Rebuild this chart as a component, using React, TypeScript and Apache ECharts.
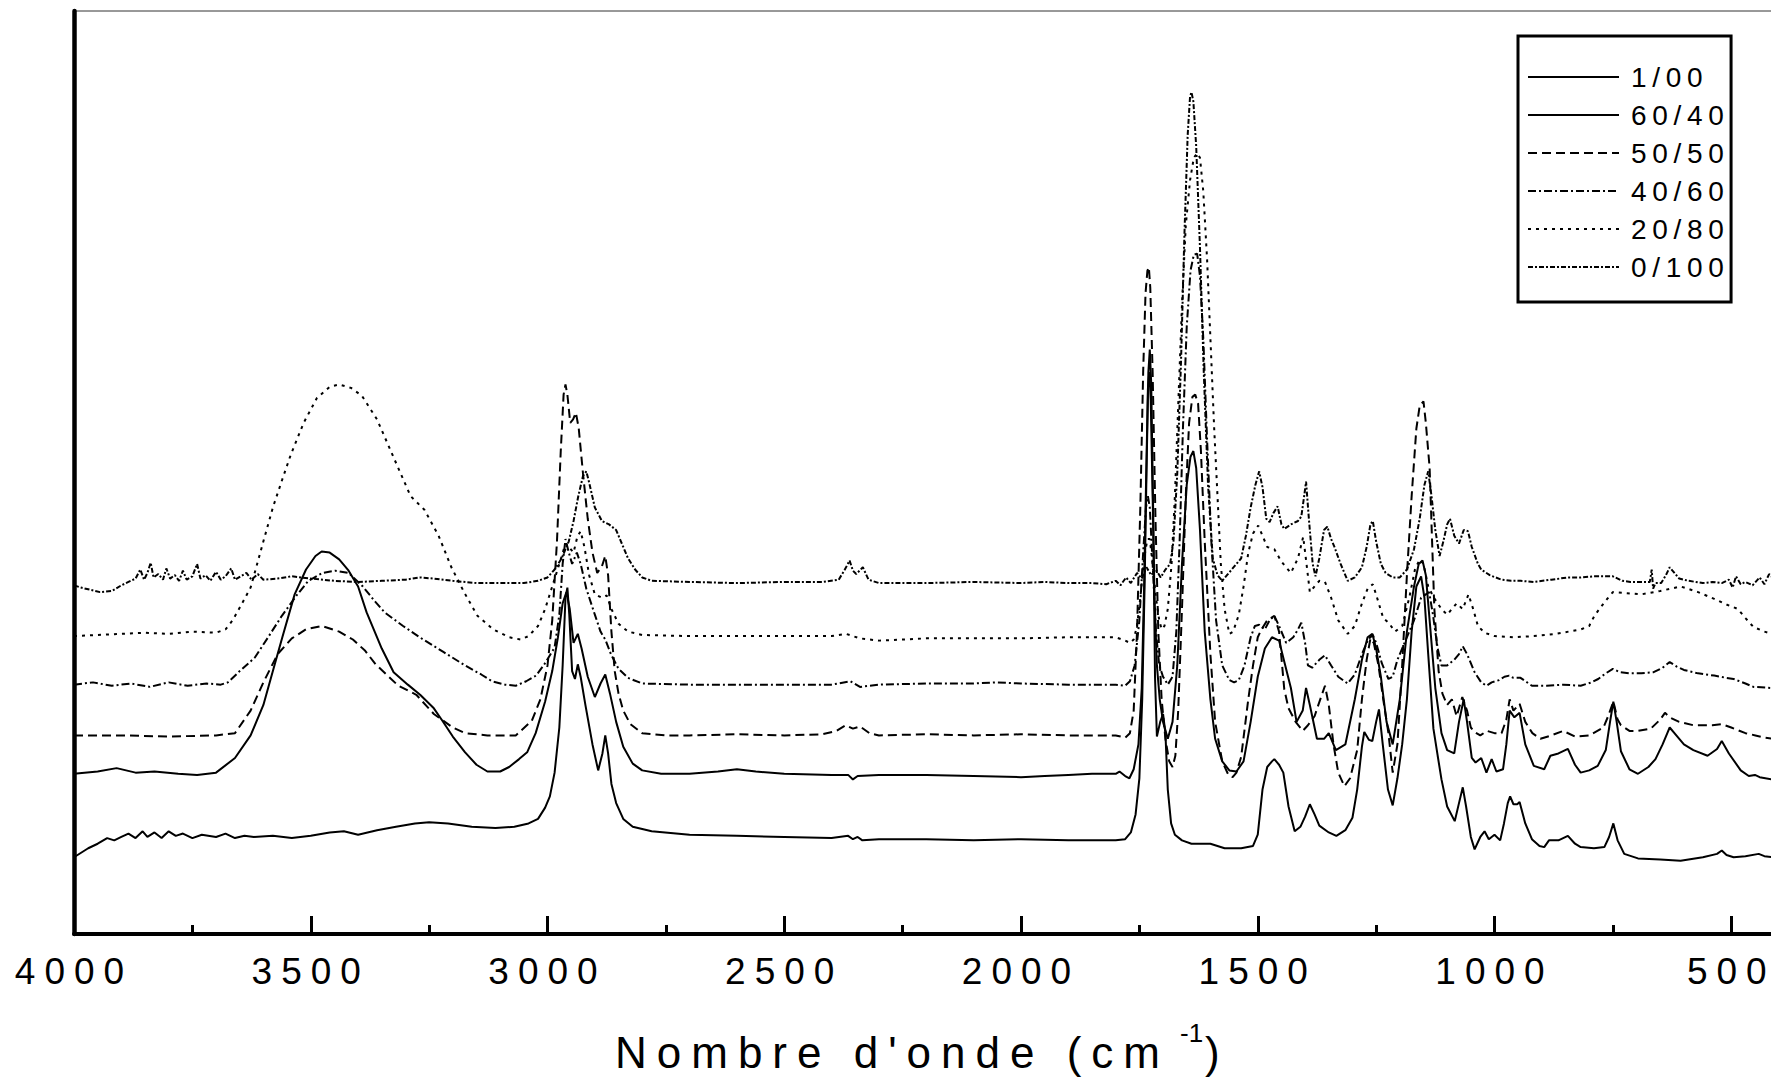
import React, { useEffect, useRef } from 'react';
import * as echarts from 'echarts';

const FONT = '"Liberation Sans", Arial, Helvetica, sans-serif';

// Blend ratios shown in the legend, one spectrum each
const seriesNames = ['1/00', '60/40', '50/50', '40/60', '20/80', '0/100'];

// Wavenumber axis (cm-1), drawn high to low
const xMin = 0;
const xMax = 4000;
const xStep = 500;

// Stacked absorbance spectra: [wavenumber cm-1, absorbance a.u. incl. offset]
const spec_1_00: [number, number][] = [
  [4000, 0.68], [3985, 0.72], [3970, 0.76], [3950, 0.8], [3930, 0.85], [3915, 0.83], [3900, 0.86], [3885, 0.89],
  [3870, 0.85], [3855, 0.91], [3845, 0.86], [3830, 0.9], [3815, 0.85], [3800, 0.91], [3785, 0.87], [3770, 0.89],
  [3750, 0.85], [3730, 0.88], [3700, 0.86], [3680, 0.89], [3660, 0.85], [3640, 0.87], [3620, 0.86], [3580, 0.87],
  [3540, 0.85], [3500, 0.87], [3460, 0.9], [3430, 0.91], [3400, 0.88], [3360, 0.92], [3320, 0.95], [3280, 0.98],
  [3250, 0.99], [3210, 0.98], [3160, 0.95], [3110, 0.94], [3070, 0.95], [3040, 0.98], [3020, 1.02], [3005, 1.12],
  [2995, 1.22], [2985, 1.43], [2975, 1.83], [2968, 2.38], [2962, 2.98], [2958, 3.07], [2954, 2.83], [2948, 2.33],
  [2942, 2.26], [2936, 2.39], [2930, 2.28], [2920, 2.03], [2905, 1.68], [2893, 1.45], [2884, 1.6], [2878, 1.76],
  [2872, 1.6], [2865, 1.33], [2855, 1.16], [2840, 1.02], [2820, 0.95], [2780, 0.91], [2700, 0.88], [2600, 0.87],
  [2500, 0.86], [2400, 0.85], [2365, 0.87], [2355, 0.84], [2345, 0.86], [2335, 0.83], [2300, 0.84], [2200, 0.84],
  [2100, 0.83], [2000, 0.84], [1900, 0.83], [1800, 0.83], [1780, 0.84], [1768, 0.9], [1758, 1.06], [1750, 1.38],
  [1744, 2.08], [1739, 3.08], [1735, 4.08], [1731, 4.98], [1728, 5.18], [1725, 4.88], [1721, 3.78], [1717, 2.28],
  [1713, 1.75], [1706, 1.88], [1700, 1.95], [1695, 1.78], [1690, 1.28], [1683, 0.98], [1675, 0.88], [1660, 0.83],
  [1640, 0.8], [1600, 0.8], [1570, 0.76], [1535, 0.76], [1510, 0.78], [1500, 0.88], [1490, 1.28], [1480, 1.48],
  [1470, 1.53], [1465, 1.55], [1455, 1.5], [1446, 1.43], [1435, 1.13], [1422, 0.91], [1410, 0.95], [1400, 1.04],
  [1390, 1.15], [1380, 1.06], [1370, 0.96], [1350, 0.9], [1334, 0.87], [1315, 0.92], [1300, 1.03], [1290, 1.28],
  [1280, 1.66], [1275, 1.79], [1265, 1.72], [1258, 1.71], [1250, 1.88], [1244, 1.99], [1236, 1.68], [1225, 1.28],
  [1215, 1.14], [1205, 1.38], [1195, 1.68], [1185, 2.08], [1175, 2.68], [1165, 3.08], [1155, 3.17], [1148, 2.98],
  [1140, 2.48], [1129, 1.82], [1120, 1.58], [1112, 1.37], [1100, 1.13], [1084, 1.0], [1075, 1.16], [1067, 1.3],
  [1060, 1.13], [1050, 0.86], [1042, 0.75], [1030, 0.86], [1021, 0.91], [1012, 0.84], [1000, 0.88], [988, 0.83],
  [980, 0.98], [972, 1.16], [967, 1.22], [960, 1.15], [952, 1.15], [947, 1.17], [935, 0.98], [921, 0.84],
  [905, 0.78], [895, 0.77], [885, 0.83], [865, 0.83], [845, 0.87], [830, 0.8], [818, 0.77], [790, 0.76],
  [768, 0.77], [758, 0.86], [749, 0.98], [740, 0.83], [726, 0.71], [697, 0.67], [650, 0.66], [607, 0.65],
  [560, 0.68], [530, 0.71], [520, 0.74], [510, 0.7], [495, 0.68], [470, 0.69], [442, 0.71], [430, 0.69],
  [413, 0.68], [400, 0.68],
];

const spec_60_40: [number, number][] = [
  [4000, 1.42], [3950, 1.44], [3910, 1.47], [3870, 1.43], [3830, 1.44], [3780, 1.42], [3740, 1.41], [3700, 1.43],
  [3660, 1.56], [3627, 1.76], [3600, 2.03], [3580, 2.33], [3560, 2.63], [3534, 3.01], [3510, 3.23], [3490, 3.35],
  [3477, 3.39], [3460, 3.38], [3440, 3.32], [3420, 3.22], [3400, 3.08], [3382, 2.85], [3350, 2.53], [3325, 2.32],
  [3295, 2.21], [3269, 2.12], [3240, 2.0], [3222, 1.89], [3200, 1.75], [3174, 1.61], [3150, 1.5], [3127, 1.44],
  [3100, 1.44], [3081, 1.48], [3060, 1.55], [3043, 1.61], [3025, 1.78], [3005, 2.06], [2990, 2.33], [2978, 2.63],
  [2968, 2.93], [2960, 3.03], [2953, 2.88], [2945, 2.58], [2936, 2.66], [2928, 2.53], [2915, 2.28], [2900, 2.1],
  [2888, 2.22], [2878, 2.3], [2868, 2.13], [2855, 1.88], [2840, 1.66], [2820, 1.51], [2800, 1.45], [2760, 1.42],
  [2700, 1.42], [2640, 1.44], [2600, 1.46], [2560, 1.44], [2500, 1.42], [2400, 1.41], [2365, 1.41], [2355, 1.37],
  [2345, 1.4], [2300, 1.41], [2200, 1.41], [2100, 1.4], [2000, 1.39], [1950, 1.4], [1900, 1.41], [1850, 1.42],
  [1800, 1.42], [1792, 1.44], [1780, 1.4], [1771, 1.38], [1762, 1.46], [1752, 1.68], [1745, 2.18], [1740, 3.08],
  [1736, 3.98], [1732, 4.83], [1729, 4.98], [1726, 4.73], [1722, 3.88], [1718, 2.98], [1713, 2.38], [1707, 2.08],
  [1700, 1.88], [1690, 1.73], [1680, 1.88], [1670, 2.38], [1660, 3.28], [1650, 3.98], [1642, 4.23], [1636, 4.28],
  [1630, 4.13], [1622, 3.58], [1612, 2.68], [1600, 2.08], [1590, 1.73], [1575, 1.53], [1560, 1.45], [1545, 1.44],
  [1530, 1.53], [1515, 1.88], [1500, 2.28], [1485, 2.53], [1470, 2.63], [1455, 2.6], [1445, 2.43], [1430, 2.18],
  [1418, 1.88], [1405, 1.98], [1398, 2.18], [1390, 2.03], [1375, 1.73], [1360, 1.73], [1350, 1.78], [1335, 1.63],
  [1315, 1.68], [1295, 2.08], [1280, 2.43], [1268, 2.63], [1258, 2.66], [1250, 2.53], [1240, 2.28], [1228, 1.88],
  [1215, 1.68], [1200, 2.08], [1185, 2.68], [1170, 3.08], [1160, 3.28], [1152, 3.31], [1145, 3.18], [1135, 2.68],
  [1125, 2.18], [1112, 1.78], [1100, 1.63], [1085, 1.6], [1075, 1.88], [1065, 2.08], [1058, 1.88], [1048, 1.56],
  [1040, 1.52], [1028, 1.56], [1017, 1.43], [1006, 1.55], [996, 1.44], [982, 1.46], [975, 1.68], [968, 1.98],
  [958, 1.92], [947, 1.96], [935, 1.68], [917, 1.49], [895, 1.46], [882, 1.58], [865, 1.6], [845, 1.64],
  [830, 1.5], [818, 1.43], [800, 1.45], [782, 1.49], [765, 1.63], [756, 1.88], [749, 2.06], [742, 1.88],
  [733, 1.62], [715, 1.46], [697, 1.42], [675, 1.48], [660, 1.55], [645, 1.68], [635, 1.78], [630, 1.83],
  [620, 1.78], [600, 1.68], [580, 1.63], [550, 1.58], [530, 1.64], [520, 1.71], [505, 1.6], [480, 1.45],
  [463, 1.4], [450, 1.41], [440, 1.39], [413, 1.37], [400, 1.37],
];

const spec_50_50: [number, number][] = [
  [4000, 1.76], [3900, 1.76], [3800, 1.75], [3700, 1.76], [3660, 1.78], [3627, 1.98], [3600, 2.23], [3570, 2.48],
  [3540, 2.62], [3510, 2.7], [3477, 2.73], [3440, 2.68], [3411, 2.61], [3385, 2.51], [3363, 2.39], [3315, 2.2],
  [3277, 2.12], [3240, 1.95], [3200, 1.83], [3174, 1.78], [3127, 1.76], [3067, 1.76], [3033, 1.89], [3015, 2.08],
  [3000, 2.38], [2990, 2.78], [2980, 3.48], [2972, 4.28], [2966, 4.78], [2962, 4.87], [2958, 4.78], [2952, 4.53],
  [2946, 4.56], [2940, 4.62], [2934, 4.48], [2925, 4.08], [2915, 3.68], [2905, 3.38], [2895, 3.2], [2885, 3.26],
  [2878, 3.35], [2872, 3.18], [2865, 2.68], [2858, 2.33], [2850, 2.13], [2840, 1.98], [2825, 1.86], [2800, 1.78],
  [2750, 1.76], [2700, 1.76], [2600, 1.77], [2500, 1.76], [2420, 1.77], [2390, 1.8], [2370, 1.85], [2355, 1.82],
  [2340, 1.84], [2320, 1.78], [2300, 1.76], [2200, 1.77], [2100, 1.76], [2000, 1.77], [1900, 1.76], [1800, 1.76],
  [1780, 1.74], [1770, 1.78], [1762, 1.98], [1755, 2.68], [1748, 3.78], [1742, 4.98], [1737, 5.68], [1733, 5.88],
  [1730, 5.91], [1727, 5.73], [1722, 4.98], [1716, 3.68], [1710, 2.68], [1703, 2.08], [1695, 1.73], [1687, 1.53],
  [1680, 1.48], [1674, 1.58], [1668, 1.98], [1660, 2.88], [1652, 3.88], [1645, 4.53], [1638, 4.76], [1632, 4.78],
  [1626, 4.7], [1620, 4.28], [1612, 3.48], [1600, 2.48], [1590, 1.88], [1575, 1.53], [1562, 1.41], [1553, 1.39],
  [1545, 1.43], [1535, 1.57], [1520, 2.08], [1510, 2.38], [1500, 2.63], [1492, 2.7], [1480, 2.78], [1465, 2.82],
  [1455, 2.68], [1444, 2.17], [1435, 2.0], [1420, 1.88], [1405, 1.8], [1394, 1.85], [1380, 1.93], [1372, 2.03],
  [1358, 2.2], [1350, 2.03], [1340, 1.68], [1330, 1.43], [1317, 1.31], [1305, 1.38], [1290, 1.63], [1280, 2.08],
  [1270, 2.43], [1262, 2.62], [1255, 2.58], [1245, 2.38], [1235, 2.08], [1224, 1.78], [1215, 1.43], [1205, 1.68],
  [1195, 2.38], [1185, 3.18], [1175, 3.88], [1165, 4.48], [1158, 4.68], [1150, 4.72], [1145, 4.53], [1137, 4.13],
  [1127, 2.88], [1118, 2.33], [1110, 2.13], [1100, 2.03], [1090, 2.08], [1080, 1.93], [1068, 2.1], [1058, 1.98],
  [1050, 1.83], [1042, 1.79], [1030, 1.76], [1016, 1.8], [1000, 1.78], [985, 1.78], [975, 1.9], [968, 2.08],
  [960, 1.98], [947, 2.04], [935, 1.88], [920, 1.78], [903, 1.73], [880, 1.76], [855, 1.8], [830, 1.75],
  [800, 1.76], [770, 1.83], [760, 1.93], [749, 2.06], [740, 1.9], [733, 1.85], [715, 1.8], [697, 1.8],
  [670, 1.82], [650, 1.9], [640, 1.96], [630, 1.92], [610, 1.88], [580, 1.85], [540, 1.85], [520, 1.86],
  [500, 1.83], [470, 1.78], [449, 1.76], [430, 1.74], [413, 1.73], [400, 1.73],
];

const spec_40_60: [number, number][] = [
  [4000, 2.21], [3960, 2.23], [3920, 2.2], [3880, 2.22], [3840, 2.19], [3800, 2.23], [3760, 2.2], [3720, 2.22],
  [3690, 2.21], [3675, 2.23], [3650, 2.33], [3618, 2.45], [3590, 2.63], [3561, 2.82], [3530, 3.0], [3505, 3.13],
  [3475, 3.2], [3448, 3.22], [3420, 3.2], [3390, 3.08], [3365, 2.95], [3344, 2.85], [3305, 2.73], [3270, 2.63],
  [3220, 2.5], [3174, 2.38], [3140, 2.3], [3117, 2.24], [3090, 2.21], [3067, 2.2], [3045, 2.24], [3024, 2.29],
  [3005, 2.4], [2985, 2.54], [2975, 2.83], [2968, 3.28], [2962, 3.5], [2955, 3.38], [2948, 3.28], [2938, 3.38],
  [2930, 3.28], [2918, 3.06], [2900, 2.83], [2888, 2.68], [2878, 2.61], [2866, 2.48], [2850, 2.35], [2830, 2.27],
  [2800, 2.22], [2700, 2.21], [2600, 2.21], [2500, 2.21], [2400, 2.21], [2360, 2.24], [2340, 2.19], [2300, 2.21],
  [2200, 2.22], [2100, 2.22], [2050, 2.23], [2000, 2.22], [1900, 2.21], [1800, 2.21], [1780, 2.2], [1770, 2.24],
  [1760, 2.38], [1750, 2.78], [1742, 3.38], [1736, 3.78], [1732, 3.88], [1728, 3.78], [1722, 3.28], [1715, 2.68],
  [1708, 2.38], [1700, 2.28], [1690, 2.21], [1680, 2.28], [1672, 2.68], [1665, 3.48], [1658, 4.48], [1650, 5.38],
  [1642, 5.88], [1635, 6.02], [1628, 6.03], [1622, 5.83], [1615, 5.28], [1607, 4.38], [1598, 3.48], [1588, 2.78],
  [1575, 2.38], [1560, 2.25], [1550, 2.23], [1540, 2.25], [1528, 2.38], [1515, 2.63], [1506, 2.73], [1497, 2.74],
  [1485, 2.7], [1475, 2.78], [1465, 2.82], [1455, 2.73], [1440, 2.58], [1425, 2.63], [1415, 2.7], [1408, 2.76],
  [1400, 2.58], [1394, 2.38], [1385, 2.36], [1370, 2.43], [1358, 2.47], [1345, 2.38], [1330, 2.28], [1310, 2.22],
  [1295, 2.3], [1280, 2.48], [1267, 2.61], [1257, 2.65], [1250, 2.58], [1238, 2.4], [1224, 2.26], [1215, 2.28],
  [1205, 2.43], [1190, 2.58], [1170, 2.78], [1155, 2.98], [1145, 3.01], [1138, 3.03], [1130, 2.83], [1120, 2.53],
  [1112, 2.38], [1100, 2.38], [1085, 2.43], [1075, 2.48], [1067, 2.55], [1058, 2.48], [1042, 2.32], [1028, 2.23],
  [1017, 2.2], [1006, 2.23], [990, 2.25], [979, 2.28], [969, 2.29], [960, 2.27], [945, 2.27], [921, 2.2],
  [890, 2.2], [855, 2.21], [818, 2.2], [795, 2.23], [781, 2.26], [765, 2.31], [750, 2.35], [735, 2.32],
  [713, 2.31], [690, 2.31], [664, 2.32], [645, 2.36], [630, 2.41], [615, 2.37], [600, 2.34], [570, 2.31],
  [536, 2.29], [510, 2.27], [495, 2.26], [470, 2.22], [453, 2.19], [413, 2.18], [400, 2.18],
];

const spec_20_80: [number, number][] = [
  [4000, 2.64], [3950, 2.65], [3900, 2.66], [3850, 2.67], [3800, 2.66], [3750, 2.68], [3700, 2.67], [3680, 2.7],
  [3665, 2.78], [3645, 2.93], [3627, 3.07], [3600, 3.48], [3580, 3.78], [3560, 4.03], [3542, 4.25], [3515, 4.53],
  [3487, 4.75], [3460, 4.85], [3440, 4.87], [3415, 4.84], [3392, 4.77], [3360, 4.56], [3334, 4.31], [3310, 4.08],
  [3289, 3.88], [3260, 3.76], [3230, 3.53], [3203, 3.25], [3175, 3.02], [3148, 2.82], [3115, 2.7], [3081, 2.63],
  [3057, 2.61], [3040, 2.64], [3020, 2.73], [3005, 2.88], [2990, 3.08], [2975, 3.28], [2962, 3.46], [2955, 3.43],
  [2945, 3.38], [2937, 3.52], [2930, 3.57], [2922, 3.43], [2912, 3.18], [2900, 3.01], [2885, 2.98], [2875, 3.0],
  [2865, 2.88], [2850, 2.75], [2830, 2.68], [2800, 2.65], [2700, 2.64], [2600, 2.64], [2500, 2.64], [2400, 2.64],
  [2370, 2.66], [2340, 2.62], [2300, 2.6], [2250, 2.61], [2200, 2.62], [2100, 2.62], [2000, 2.62], [1900, 2.63],
  [1800, 2.63], [1780, 2.6], [1770, 2.58], [1762, 2.61], [1755, 2.73], [1748, 2.98], [1740, 3.33], [1733, 3.5],
  [1728, 3.5], [1722, 3.28], [1715, 2.98], [1708, 2.78], [1703, 2.7], [1697, 2.73], [1690, 2.88], [1682, 3.28],
  [1675, 3.88], [1668, 4.68], [1660, 5.58], [1652, 6.28], [1643, 6.68], [1635, 6.88], [1628, 6.92], [1622, 6.88],
  [1615, 6.58], [1607, 5.98], [1600, 5.28], [1592, 4.48], [1585, 3.88], [1578, 3.28], [1570, 2.88], [1560, 2.66],
  [1552, 2.68], [1540, 2.83], [1530, 3.08], [1520, 3.38], [1510, 3.55], [1499, 3.62], [1490, 3.53], [1480, 3.43],
  [1465, 3.41], [1450, 3.3], [1430, 3.2], [1415, 3.33], [1404, 3.52], [1397, 3.28], [1390, 3.03], [1380, 3.08],
  [1370, 3.13], [1358, 3.12], [1345, 2.98], [1330, 2.78], [1310, 2.66], [1295, 2.73], [1280, 2.93], [1268, 3.06],
  [1257, 3.1], [1248, 2.98], [1235, 2.8], [1224, 2.76], [1210, 2.68], [1195, 2.73], [1180, 2.98], [1168, 3.23],
  [1158, 3.32], [1150, 3.28], [1140, 3.08], [1128, 2.98], [1112, 2.88], [1100, 2.83], [1090, 2.88], [1080, 2.93],
  [1067, 2.88], [1055, 3.01], [1045, 2.88], [1035, 2.73], [1021, 2.67], [1000, 2.64], [960, 2.63], [917, 2.64],
  [870, 2.66], [817, 2.7], [800, 2.73], [789, 2.82], [775, 2.9], [762, 2.97], [750, 3.03], [720, 3.02],
  [690, 3.01], [650, 3.04], [607, 3.08], [570, 3.03], [536, 2.97], [510, 2.92], [486, 2.88], [470, 2.8],
  [453, 2.72], [430, 2.68], [413, 2.66], [400, 2.66],
];

const spec_0_100: [number, number][] = [
  [4000, 3.09], [3985, 3.07], [3965, 3.05], [3945, 3.03], [3920, 3.04], [3900, 3.09], [3885, 3.12], [3870, 3.15],
  [3860, 3.23], [3852, 3.14], [3845, 3.2], [3838, 3.29], [3832, 3.16], [3822, 3.19], [3812, 3.14], [3805, 3.24],
  [3797, 3.15], [3787, 3.18], [3778, 3.13], [3770, 3.22], [3762, 3.14], [3750, 3.17], [3740, 3.28], [3733, 3.15],
  [3722, 3.18], [3712, 3.13], [3700, 3.21], [3690, 3.14], [3680, 3.17], [3668, 3.24], [3660, 3.14], [3648, 3.17],
  [3636, 3.2], [3625, 3.14], [3612, 3.19], [3600, 3.14], [3570, 3.15], [3540, 3.17], [3500, 3.15], [3450, 3.13],
  [3400, 3.12], [3350, 3.13], [3300, 3.14], [3270, 3.16], [3240, 3.15], [3200, 3.13], [3150, 3.11], [3100, 3.11],
  [3050, 3.11], [3020, 3.13], [3000, 3.16], [2985, 3.23], [2970, 3.33], [2955, 3.48], [2945, 3.66], [2935, 3.88],
  [2925, 4.06], [2918, 4.1], [2912, 4.0], [2900, 3.78], [2885, 3.66], [2870, 3.63], [2855, 3.58], [2845, 3.48],
  [2830, 3.33], [2815, 3.23], [2800, 3.16], [2780, 3.13], [2700, 3.12], [2600, 3.11], [2500, 3.12], [2420, 3.12],
  [2385, 3.14], [2372, 3.23], [2362, 3.31], [2355, 3.22], [2348, 3.19], [2334, 3.25], [2322, 3.14], [2300, 3.11],
  [2200, 3.11], [2100, 3.12], [2000, 3.11], [1950, 3.12], [1900, 3.11], [1850, 3.11], [1820, 3.1], [1800, 3.13],
  [1790, 3.09], [1778, 3.16], [1768, 3.11], [1755, 3.2], [1745, 3.15], [1735, 3.25], [1725, 3.18], [1715, 3.23],
  [1705, 3.16], [1695, 3.23], [1685, 3.28], [1678, 3.48], [1670, 4.08], [1662, 5.08], [1655, 6.18], [1648, 7.08],
  [1643, 7.42], [1640, 7.46], [1636, 7.38], [1630, 6.98], [1622, 6.08], [1614, 4.98], [1605, 3.98], [1595, 3.33],
  [1585, 3.18], [1575, 3.13], [1565, 3.18], [1555, 3.23], [1545, 3.28], [1535, 3.33], [1525, 3.53], [1515, 3.78],
  [1505, 3.98], [1497, 4.1], [1490, 3.96], [1482, 3.68], [1475, 3.65], [1467, 3.73], [1458, 3.79], [1450, 3.63],
  [1444, 3.59], [1430, 3.63], [1415, 3.66], [1408, 3.7], [1402, 3.88], [1398, 4.01], [1392, 3.68], [1384, 3.28],
  [1378, 3.17], [1370, 3.33], [1360, 3.58], [1353, 3.61], [1345, 3.5], [1338, 3.43], [1325, 3.28], [1310, 3.13],
  [1295, 3.16], [1280, 3.25], [1270, 3.43], [1262, 3.63], [1257, 3.66], [1250, 3.48], [1240, 3.28], [1230, 3.2],
  [1215, 3.16], [1200, 3.16], [1185, 3.23], [1170, 3.41], [1158, 3.68], [1148, 3.98], [1140, 4.1], [1133, 3.88],
  [1125, 3.58], [1116, 3.35], [1108, 3.48], [1100, 3.63], [1094, 3.68], [1085, 3.53], [1075, 3.46], [1065, 3.58],
  [1056, 3.57], [1048, 3.43], [1035, 3.28], [1028, 3.23], [1010, 3.18], [985, 3.14], [965, 3.13], [945, 3.13],
  [917, 3.12], [880, 3.14], [845, 3.16], [818, 3.16], [790, 3.17], [765, 3.17], [750, 3.17], [730, 3.13],
  [713, 3.12], [690, 3.12], [672, 3.12], [668, 3.23], [665, 3.06], [660, 3.11], [648, 3.11], [638, 3.18],
  [630, 3.25], [620, 3.2], [610, 3.15], [590, 3.13], [560, 3.11], [540, 3.12], [520, 3.11], [505, 3.14],
  [497, 3.07], [490, 3.17], [480, 3.1], [470, 3.12], [455, 3.09], [440, 3.16], [430, 3.1], [420, 3.19],
  [413, 3.16], [400, 3.16],
];

const spectra = [spec_1_00, spec_60_40, spec_50_50, spec_40_60, spec_20_80, spec_0_100];

// Line pattern per blend
const dashes: (string | number[])[] = ['solid', 'solid', [9, 5], [8, 3, 2, 3], [3, 5], [5, 2, 2, 2]];

// Wide tracking of the printed labels, keyed by font size
function spaceLetters(root: HTMLElement | null) {
  if (!root) return;
  root.querySelectorAll('text').forEach((t) => {
    const fs = parseFloat(getComputedStyle(t).fontSize || '0');
    let ls = 0;
    if (fs >= 42) ls = 10;
    else if (fs >= 34) ls = 9;
    else if (fs >= 27) ls = 5.7;
    (t as SVGTextElement).style.letterSpacing = ls + 'px';
  });
}

export default function App() {
  const ref = useRef<HTMLDivElement>(null);

  useEffect(() => {
    if (!ref.current) return;
    const chart = echarts.init(ref.current, null, { renderer: 'svg' });

    const titleStyle = (text: string, size: number) => ({
      text,
      fontSize: size,
      fontFamily: FONT,
      fill: '#000',
      textAlign: 'left',
      align: 'left',
      textVerticalAlign: 'middle',
      verticalAlign: 'middle',
    });

    const option: any = {
      animation: false,
      backgroundColor: '#fff',
      grid: {
        left: 74,
        top: 11,
        width: 1894,
        height: 923,
        show: true,
        borderColor: '#333',
        borderWidth: 1,
        backgroundColor: 'transparent',
      },
      xAxis: {
        type: 'value',
        inverse: true,
        min: xMin,
        max: xMax,
        interval: xStep,
        axisLine: { show: true, onZero: false, lineStyle: { color: '#000', width: 4 } },
        axisTick: { show: true, inside: true, length: 18, lineStyle: { color: '#000', width: 3 } },
        minorTick: { show: true, splitNumber: 2, length: 9, lineStyle: { color: '#000', width: 3 } },
        axisLabel: {
          show: true,
          margin: 19,
          fontSize: 37,
          fontFamily: FONT,
          color: '#000',
          formatter: (v: number) => (v === 0 ? '' : String(v)),
        },
        splitLine: { show: false },
        minorSplitLine: { show: false },
      },
      yAxis: {
        type: 'value',
        min: 0,
        max: 8.18,
        axisLine: { show: true, onZero: false, lineStyle: { color: '#000', width: 4.5 } },
        axisTick: { show: false },
        axisLabel: { show: false },
        splitLine: { show: false },
      },
      legend: {
        orient: 'vertical',
        left: 1518,
        top: 36,
        itemWidth: 91,
        itemHeight: 14,
        itemGap: 10,
        padding: [27, 30, 21, 9],
        backgroundColor: '#fff',
        borderColor: '#000',
        borderWidth: 3,
        selectedMode: false,
        data: seriesNames,
        itemStyle: { opacity: 0, borderWidth: 0 },
        textStyle: { fontSize: 28, fontFamily: FONT, color: '#000', padding: [0, 0, 0, 7] },
      },
      graphic: [
        { type: 'text', x: 615, y: 1052, silent: true, style: titleStyle("Nombre d'onde (cm", 44) },
        { type: 'text', x: 1180, y: 1033, silent: true, style: titleStyle('-1', 26) },
        { type: 'text', x: 1205, y: 1052, silent: true, style: titleStyle(')', 44) },
      ],
      series: seriesNames.map((name, i) => ({
        name,
        type: 'line',
        data: spectra[i],
        symbol: 'none',
        showSymbol: false,
        silent: true,
        emphasis: { disabled: true },
        lineStyle: { color: '#000', width: 2, type: dashes[i] },
        itemStyle: { color: '#000' },
        z: 2 + i,
      })),
    };

    chart.setOption(option);
    const el = ref.current;
    spaceLetters(el);
    chart.on('finished', () => spaceLetters(el));
    const raf = requestAnimationFrame(() => spaceLetters(el));
    const tm = setTimeout(() => spaceLetters(el), 50);

    return () => {
      cancelAnimationFrame(raf);
      clearTimeout(tm);
      chart.dispose();
    };
  }, []);

  return (
    <div
      style={{
        position: 'fixed',
        left: 0,
        top: 0,
        width: 1771,
        height: 1079,
        overflow: 'hidden',
        background: '#fff',
      }}
    >
      <div ref={ref} style={{ width: 2000, height: 1079 }} />
    </div>
  );
}
